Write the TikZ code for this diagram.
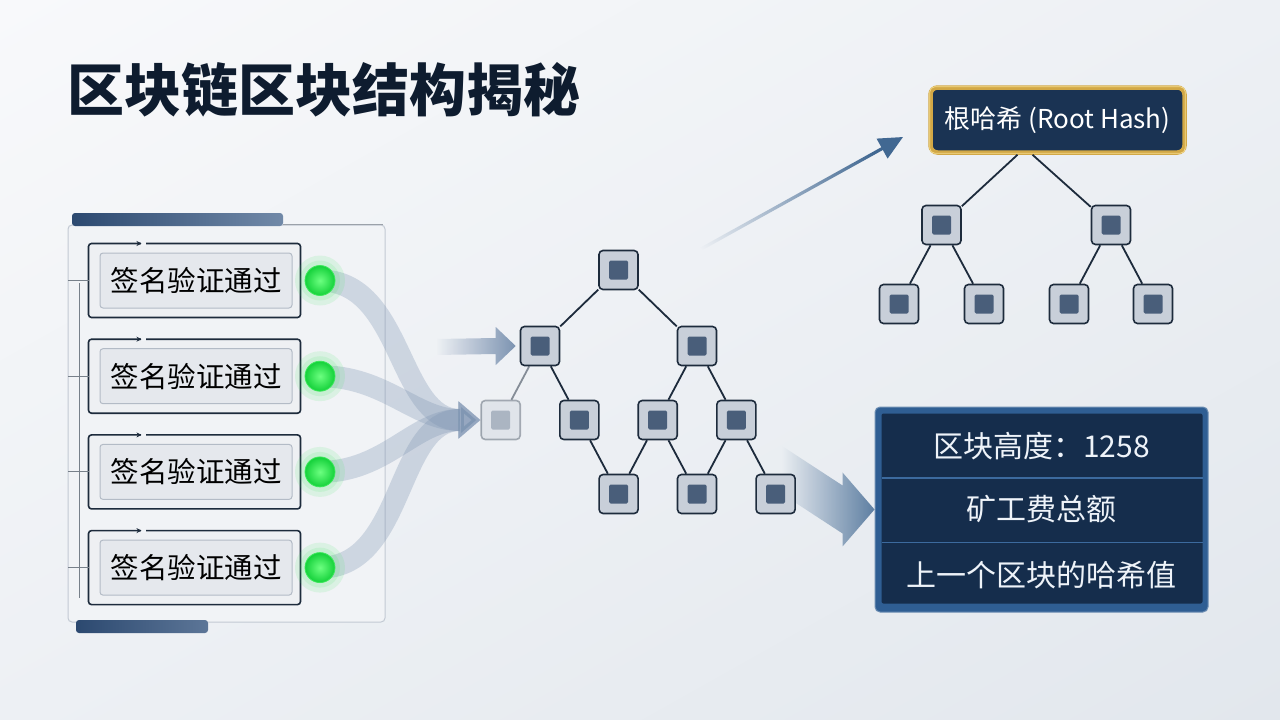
\documentclass[tikz,border=0pt]{standalone}
\usepackage{fontspec}
\setmainfont{Noto Sans CJK SC}
\usetikzlibrary{positioning,arrows.meta,fadings,shadings,calc}

\definecolor{bgtop}{HTML}{F8F9FB}
\definecolor{bgmid}{HTML}{EDF0F4}
\definecolor{bgbot}{HTML}{E2E7ED}
\definecolor{titlenavy}{HTML}{0E1C2F}
\definecolor{linenavy}{HTML}{1D2B3C}
\definecolor{panelfill}{HTML}{F1F3F6}
\definecolor{paneledge}{HTML}{C2C9D3}
\definecolor{bardark}{HTML}{2C4970}
\definecolor{barlight}{HTML}{7189A8}
\definecolor{boxouter}{HTML}{EEF0F3}
\definecolor{boxinner}{HTML}{E5E8ED}
\definecolor{boxedge}{HTML}{B3BBC6}
\definecolor{dotgreen}{HTML}{14D13A}
\definecolor{dotlight}{HTML}{6CFF80}
\definecolor{glowgreen}{HTML}{3BE85A}
\definecolor{ribbon}{HTML}{7C93B1}
\definecolor{flowblue}{HTML}{416892}
\definecolor{nodegray}{HTML}{C8CFD9}
\definecolor{nodecore}{HTML}{495E7A}
\definecolor{hashnavy}{HTML}{1A3353}
\definecolor{gold}{HTML}{D2A846}
\definecolor{goldlight}{HTML}{F4DB8E}
\definecolor{infoedge}{HTML}{2F5E93}
\definecolor{infonavy}{HTML}{152D4C}
\definecolor{rowline}{HTML}{3C6A9E}
\definecolor{infotext}{HTML}{EEF3F9}

\tikzfading[name=fadein, left color=transparent!100, right color=transparent!0]

\pgfdeclarelayer{back}
\pgfdeclarelayer{flow}
\pgfsetlayers{back,flow,main}

\begin{document}
\begin{tikzpicture}[x=1pt,y=-1pt,>=Stealth,on grid,
    sigbox/.style={draw=boxedge, line width=1pt, fill=boxinner, rounded corners=3pt, minimum width=192pt, minimum height=55pt, inner sep=0pt, font=\fontsize{28.5}{30}\selectfont, text=black},
    sigframe/.style={draw=linenavy, line width=1.6pt, fill=boxouter, rounded corners=3pt},
    dot/.style={circle, minimum size=30pt, inner sep=0pt, inner color=dotlight, outer color=dotgreen, draw=glowgreen, line width=.8pt},
    glow/.style={fill=glowgreen, opacity=.12},
    hnode/.style={draw=linenavy, line width=1.6pt, fill=nodegray, rounded corners=4pt, minimum size=39pt, inner sep=0pt,
        path picture={\fill[nodecore, rounded corners=1.5pt] ([shift={(-9.5pt,-9.5pt)}]path picture bounding box.center) rectangle ([shift={(9.5pt,9.5pt)}]path picture bounding box.center);}},
    treeline/.style={draw=linenavy, line width=1.8pt},
    roothash/.style={fill=hashnavy, draw=gold, line width=4.5pt, rounded corners=7pt, minimum width=254pt, minimum height=65pt, text=white, font=\fontsize{26}{28}\selectfont},
    infobox/.style={fill=infoedge, draw=infoedge!70!white, line width=1pt, rounded corners=5pt, minimum width=333pt, minimum height=205pt},
    infotext/.style={text=infotext, font=\fontsize{30}{32}\selectfont},
    rowsep/.style={draw=rowline, line width=1.5pt},
    ribbon/.style={draw=ribbon, line width=22pt, opacity=.3, -{Triangle[length=22pt,width=36pt]}},
    feedarrow/.style={fill=ribbon, path fading=fadein},
    hasharrow/.style={draw=flowblue, line width=3.2pt, -{Triangle[length=24pt,width=22pt]}, path fading=fadein, fading angle=29},
    infoarrow/.style={fill=flowblue!85, path fading=fadein}]

    \useasboundingbox (0,0) rectangle (1280,720);

    % title
    \node[anchor=west, text=titlenavy, font=\fontsize{57}{59}\bfseries] (title) at (64,90) {区块链区块结构揭秘};

    % signature checks
    \node[sigbox] (s1) at (196,280.5) {签名验证通过};
    \node[sigbox, below=95.7pt of s1] (s2) {签名验证通过};
    \node[sigbox, below=95.7pt of s2] (s3) {签名验证通过};
    \node[sigbox, below=95.7pt of s3] (s4) {签名验证通过};

    \node[dot, right=124pt of s1] (g1) {};
    \node[dot, right=124pt of s2] (g2) {};
    \node[dot, right=124pt of s3] (g3) {};
    \node[dot, right=124pt of s4] (g4) {};

    % merkle tree
    \node[hnode] (m0) at (618.5,270) {};
    \node[hnode, below left=76pt and 78.5pt of m0] (m1a) {};
    \node[hnode, below right=76pt and 78.5pt of m0] (m1b) {};
    \node[hnode, opacity=.35, below left=74pt and 39.3pt of m1a] (m2a) {};
    \node[hnode, below right=74pt and 39.3pt of m1a] (m2b) {};
    \node[hnode, below left=74pt and 39.3pt of m1b] (m2c) {};
    \node[hnode, below right=74pt and 39.3pt of m1b] (m2d) {};
    \node[hnode, below right=74pt and 39.3pt of m2b] (m3a) {};
    \node[hnode, below right=74pt and 39.3pt of m2c] (m3b) {};
    \node[hnode, below right=74pt and 39.3pt of m2d] (m3c) {};

    \draw[treeline] (m0) to (m1a);
    \draw[treeline] (m0) to (m1b);
    \draw[treeline, opacity=.5] (m1a) to (m2a);
    \draw[treeline] (m1a) to (m2b);
    \draw[treeline] (m1b) to (m2c);
    \draw[treeline] (m1b) to (m2d);
    \draw[treeline] (m2b) to (m3a);
    \draw[treeline] (m2c) to (m3a);
    \draw[treeline] (m2c) to (m3b);
    \draw[treeline] (m2d) to (m3b);
    \draw[treeline] (m2d) to (m3c);

    % root hash tree
    \node[roothash] (hr) at (1057.5,120) {根哈希 (Root Hash)};
    \draw[goldlight, line width=.8pt, rounded corners=5pt] ([shift={(1.5pt,-1.5pt)}]hr.north west) rectangle ([shift={(-1.5pt,1.5pt)}]hr.south east);
    \node[hnode] (h1a) at (941.5,225) {};
    \node[hnode] (h1b) at (1111,225) {};
    \node[hnode, below left=79pt and 42.5pt of h1a] (h2a) {};
    \node[hnode, below right=79pt and 42.5pt of h1a] (h2b) {};
    \node[hnode, below left=79pt and 42pt of h1b] (h2c) {};
    \node[hnode, below right=79pt and 42pt of h1b] (h2d) {};

    \draw[treeline] ([xshift=-40pt]hr.south) to (h1a);
    \draw[treeline] ([xshift=-25pt]hr.south) to (h1b);
    \draw[treeline] (h1a) to (h2a);
    \draw[treeline] (h1a) to (h2b);
    \draw[treeline] (h1b) to (h2c);
    \draw[treeline] (h1b) to (h2d);

    % block header
    \node[infobox] (info) at (1041.5,509.5) {};
    \fill[infonavy, rounded corners=2pt] ([shift={(7pt,-7pt)}]info.north west) rectangle ([shift={(-6pt,9pt)}]info.south east);
    \node[infotext] (r1) at ([yshift=63.5pt]info.center) {区块高度：1258};
    \node[infotext] (r2) at (info.center) {矿工费总额};
    \node[infotext] (r3) at ([yshift=-65.5pt]info.center) {上一个区块的哈希值};
    \coordinate (sep1) at ($(r1)!.5!(r2)$);
    \coordinate (sep2) at ($(r2)!.5!(r3)$);
    \draw[rowsep] ([xshift=7pt]info.west |- sep1) -- ([xshift=-6pt]info.east |- sep1);
    \draw[rowsep] ([xshift=7pt]info.west |- sep2) -- ([xshift=-6pt]info.east |- sep2);

    \coordinate (fa) at (436,347);
    \coordinate (hs) at (672,265);
    \coordinate (ba) at (782,470);

    \begin{pgfonlayer}{back}
        \shade[upper left=bgtop, upper right=bgmid, lower left=bgmid, lower right=bgbot] (0,0) rectangle (1280,720);
        % panel
        \fill[panelfill, draw=paneledge, line width=1pt, rounded corners=4pt] (68,225) rectangle (385,622);
        \shade[left color=bardark, right color=barlight, rounded corners=3pt] (72,213) rectangle (283,226);
        \draw[paneledge!80!black, line width=1pt] (283,224.5) -- (383,224.5);
        \shade[left color=bardark, right color=barlight!70!bardark, rounded corners=3pt] (76,620) rectangle (208,633);
        \draw[linenavy!60, line width=1pt] (79,283) -- (79,598);

        \draw[sigframe] ([shift={(-11pt,9pt)}]s1.north west) rectangle ([shift={(8pt,-9pt)}]s1.south east);
        \draw[sigframe] ([shift={(-11pt,9pt)}]s2.north west) rectangle ([shift={(8pt,-9pt)}]s2.south east);
        \draw[sigframe] ([shift={(-11pt,9pt)}]s3.north west) rectangle ([shift={(8pt,-9pt)}]s3.south east);
        \draw[sigframe] ([shift={(-11pt,9pt)}]s4.north west) rectangle ([shift={(8pt,-9pt)}]s4.south east);

        \fill[panelfill] ([shift={(41pt,11pt)}]s1.north west) rectangle ([shift={(46pt,7pt)}]s1.north west);
        \fill[panelfill] ([shift={(41pt,11pt)}]s2.north west) rectangle ([shift={(46pt,7pt)}]s2.north west);
        \fill[panelfill] ([shift={(41pt,11pt)}]s3.north west) rectangle ([shift={(46pt,7pt)}]s3.north west);
        \fill[panelfill] ([shift={(41pt,11pt)}]s4.north west) rectangle ([shift={(46pt,7pt)}]s4.north west);
        \draw[linenavy, line width=1pt, -{Stealth[length=5pt,width=5pt]}] ([shift={(33pt,9pt)}]s1.north west) -- ([shift={(42pt,9pt)}]s1.north west);
        \draw[linenavy, line width=1pt, -{Stealth[length=5pt,width=5pt]}] ([shift={(33pt,9pt)}]s2.north west) -- ([shift={(42pt,9pt)}]s2.north west);
        \draw[linenavy, line width=1pt, -{Stealth[length=5pt,width=5pt]}] ([shift={(33pt,9pt)}]s3.north west) -- ([shift={(42pt,9pt)}]s3.north west);
        \draw[linenavy, line width=1pt, -{Stealth[length=5pt,width=5pt]}] ([shift={(33pt,9pt)}]s4.north west) -- ([shift={(42pt,9pt)}]s4.north west);

        \draw[linenavy!60, line width=1pt] ([xshift=-11pt]s1.west) -- ++(-21,0);
        \draw[linenavy!60, line width=1pt] ([xshift=-11pt]s2.west) -- ++(-21,0);
        \draw[linenavy!60, line width=1pt] ([xshift=-11pt]s3.west) -- ++(-21,0);
        \draw[linenavy!60, line width=1pt] ([xshift=-11pt]s4.west) -- ++(-21,0);
    \end{pgfonlayer}

    \begin{pgfonlayer}{flow}
        \draw[ribbon] (g1.center) to[out=0,in=180] (m2a.west);
        \draw[ribbon] (g2.center) to[out=0,in=180] (m2a.west);
        \draw[ribbon] (g3.center) to[out=0,in=180] (m2a.west);
        \draw[ribbon] (g4.center) to[out=0,in=180] (m2a.west);
        \fill[feedarrow] ([yshift=8pt]fa) -- ([shift={(-24pt,8pt)}]m1a.west) -- ([shift={(-24pt,19pt)}]m1a.west) -- ([xshift=-4pt]m1a.west)
            -- ([shift={(-24pt,-19pt)}]m1a.west) -- ([shift={(-24pt,-8pt)}]m1a.west) -- ([yshift=-8pt]fa) -- cycle;
        \draw[hasharrow] (hs) -- ([shift={(-25pt,18pt)}]hr.south west);
        \fill[infoarrow] ([yshift=24pt]ba) -- ([shift={(-32pt,24pt)}]info.west) -- ([shift={(-32pt,37pt)}]info.west) -- (info.west)
            -- ([shift={(-32pt,-37pt)}]info.west) -- ([shift={(-32pt,-24pt)}]info.west) -- ([yshift=-24pt]ba) -- cycle;

        \fill[glow] (g1) circle[radius=25pt];
        \fill[glow] (g1) circle[radius=20pt];
        \fill[glow] (g2) circle[radius=25pt];
        \fill[glow] (g2) circle[radius=20pt];
        \fill[glow] (g3) circle[radius=25pt];
        \fill[glow] (g3) circle[radius=20pt];
        \fill[glow] (g4) circle[radius=25pt];
        \fill[glow] (g4) circle[radius=20pt];
    \end{pgfonlayer}

\end{tikzpicture}
\end{document}
